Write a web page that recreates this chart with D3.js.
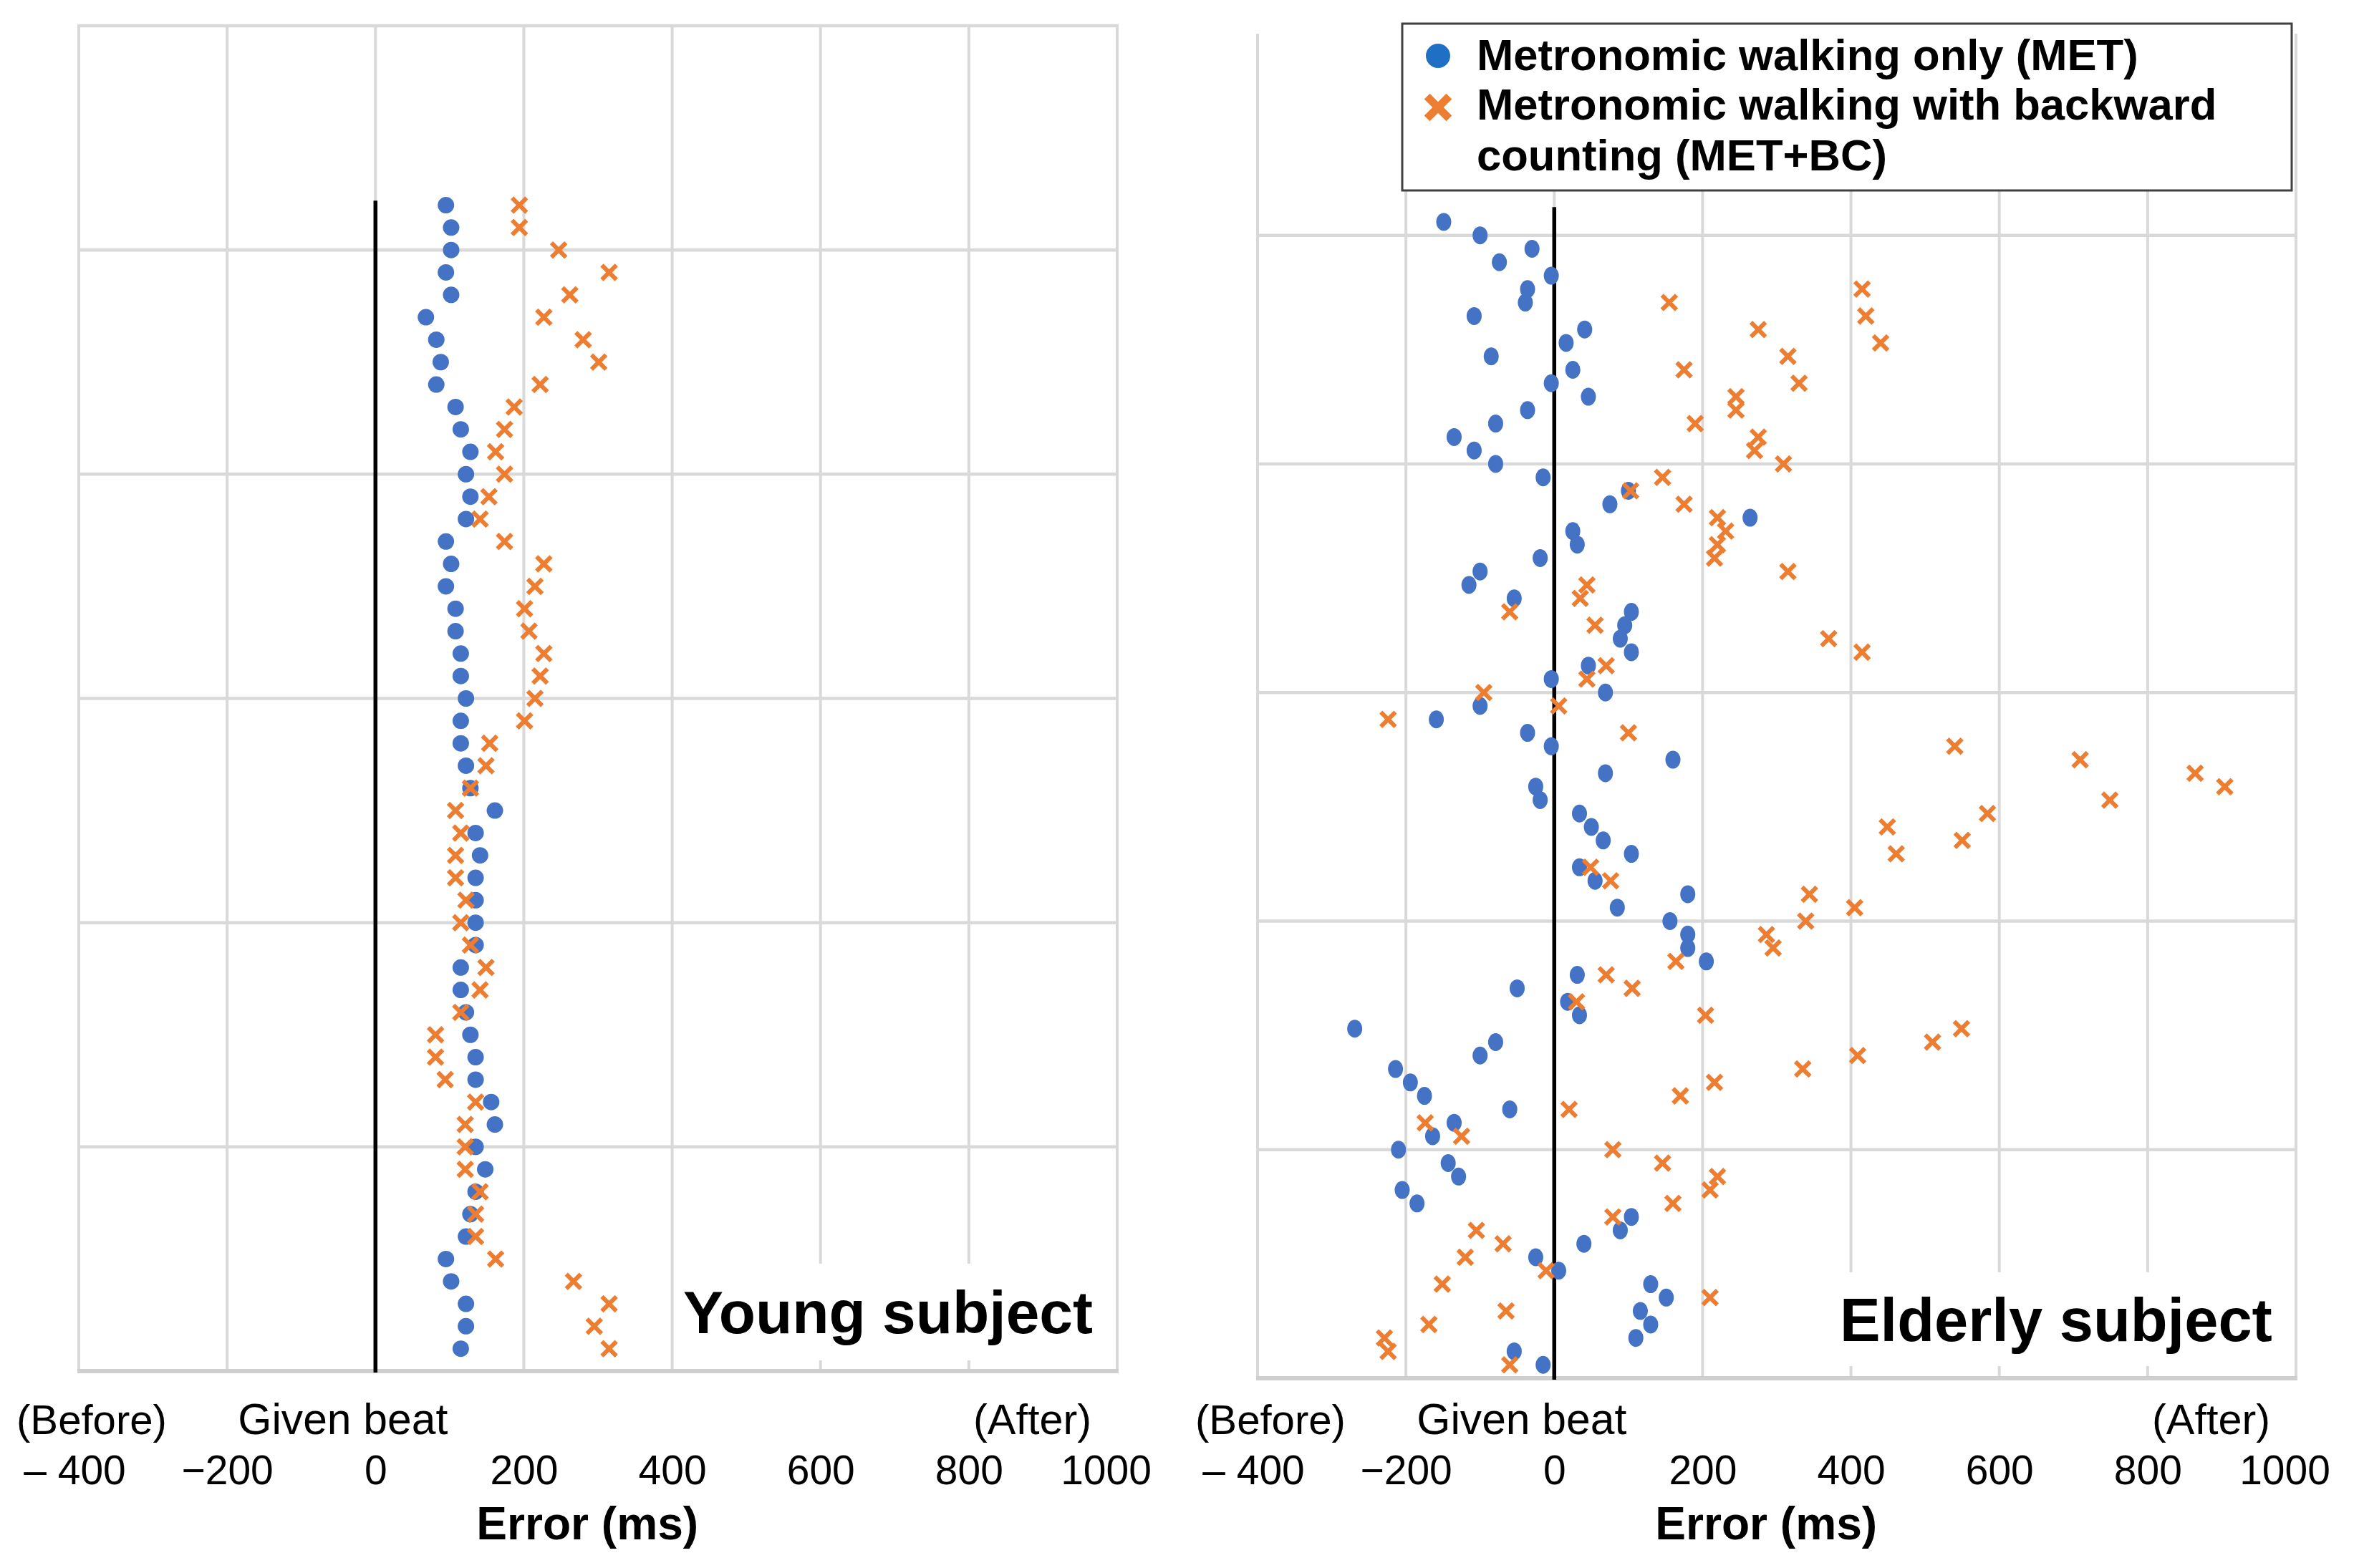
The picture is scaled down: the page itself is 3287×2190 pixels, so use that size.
<!DOCTYPE html>
<html>
<head>
<meta charset="utf-8">
<script src="https://cdn.jsdelivr.net/npm/d3@7"></script>
<style>
body { margin: 0; background: #fff; }
text { font-family: 'Liberation Sans', Arial, sans-serif; fill: #000; }
</style>
</head>
<body>
<script>
// x axis (error in ms)
var xTicks = [-400, -200, 0, 200, 400, 600, 800, 1000]
var xTickLabels = ['\u2013 400', '\u2212200', '0', '200', '400', '600', '800', '1000']
var axisNotes = ['(Before)', 'Given beat', '(After)']
var axisTitle = 'Error (ms)'
var panelTitles = ['Young subject', 'Elderly subject']
var legendLines = ['Metronomic walking only (MET)', 'Metronomic walking with backward', 'counting (MET+BC)']

// horizontal gridlines (step count from the last step)
var youngGrid = [0, 10, 20, 30, 40, 50, 60]
var elderGrid = [0, 17, 34, 51, 68, 85]

// errors in ms, first step at the top
var youngMET = [95, 102, 102, 95, 102, 68, 82, 88, 82, 108, 115, 128, 122, 128, 122, 95, 102,
	95, 108, 108, 115, 115, 122, 115, 115, 122, 128, 161, 135, 141, 135, 135, 135,
	135, 115, 115, 122, 128, 135, 135, 156, 161, 135, 148, 135, 128, 122, 95, 102, 122, 122, 115]
var youngBC = [194, 194, 247, 315, 262, 227, 280, 301, 222, 187, 174, 162, 174, 153, 141, 174, 227,
	215, 201, 207, 227, 222, 215, 201, 154, 149, 128, 108, 115, 108, 108, 122, 115,
	128, 149, 141, 115, 81, 81, 94, 135, 121, 121, 121, 141, 135, 135, 162, 267, 315, 295, 315]

var elderMET = [-149, -100, -30, -74, -4, -36, -39, -108, 41, 16, -85, 25, -4, 46, -36, -79, -135,
	-108, -79, -15, 100, 75, 264, 25, 31, -19, -100, -115, -54, 104, 95, 89, 104, 46, -4,
	69, -100, -159, -36, -4, 160, 69, -25, -19, 34, 50, 66, 104, 34, 55, 180, 85, 156,
	180, 180, 205, 31, -50, 18, 34, -269, -79, -100, -214, -194, -175, -60, -135, -164,
	-210, -143, -129, -205, -185, 104, 89, 40, -25, 6, 130, 151, 116, 130, 110, -54, -15]
var elderBC = [null, null, null, null, null, 415, 155, 420, 275, 440, 315, 175, 330, 245, 245, 190, 275,
	270, 309, 146, 103, 175, 220, 231, 220, 216, 315, 44, 35, -60, 55, 370, 415, 70, 44,
	-95, 6, -224, 100, 540, 709, 864, 904, 749, 584, 449, 550, 461, 49, 76, 344, 405, 339,
	286, 295, 164, 70, 105, 30, 204, 549, 510, 409, 335, 216, 170, 20, -174, -125,
	79, 146, 220, 210, 160, 79, -105, -69, -120, -11, -151, 210, -65, -169, -229, -224, -60]

var blue = '#4472C4'
var orange = '#ED7D31'
var gridColor = '#D9D9D9'

var svg = d3.select('body').append('svg')
	.attr('width', 3287)
	.attr('height', 2190)

drawPanel({
	xRange: [110, 1560], yDomain: [0, 60], yRange: [1915, 36],
	grid: youngGrid, met: youngMET, bc: youngBC, zeroTop: 52.2,
	rx: 11.5, ry: 11.5,
	title: panelTitles[0], titleX: 954, titleY: 1862, titleW: 572,
	box: [945, 1765, 607, 135]
})
drawPanel({
	xRange: [1756, 3206], yDomain: [0, 100], yRange: [1925, 47],
	grid: elderGrid, met: elderMET, bc: elderBC, zeroTop: 87.1,
	rx: 10.5, ry: 12.5,
	title: panelTitles[1], titleX: 2569, titleY: 1873, titleW: 604,
	box: [2560, 1777, 638, 131]
})
drawLegend()

// scale a text's font size so it spans the given width
function fit(sel, w) {
	sel.each(function() {
		var t = d3.select(this)
		var s = +t.attr('font-size')
		t.attr('font-size', s * w / this.getComputedTextLength())
	})
	return sel
}

function drawPanel(p) {
	var x = d3.scaleLinear().domain([-400, 1000]).range(p.xRange)
	var y = d3.scaleLinear().domain(p.yDomain).range(p.yRange)
	var g = svg.append('g')
	var top = y(p.yDomain[1]), bottom = y(0)

	g.selectAll('.vgrid').data(xTicks)
	.enter().append('line')
	.attr('x1', function(d) { return x(d) })
	.attr('x2', function(d) { return x(d) })
	.attr('y1', top)
	.attr('y2', bottom)
	.attr('stroke', gridColor)
	.attr('stroke-width', 4)

	g.selectAll('.hgrid').data(p.grid)
	.enter().append('line')
	.attr('x1', x(-400) - 2)
	.attr('x2', x(1000) + 2)
	.attr('y1', function(d) { return y(d) })
	.attr('y2', function(d) { return y(d) })
	.attr('stroke', function(d) { return d == 0 ? '#CFCFCF' : gridColor })
	.attr('stroke-width', function(d) { return d == 0 ? 6 : 4.5 })

	// white box behind the panel title
	g.append('rect')
	.attr('x', p.box[0]).attr('y', p.box[1])
	.attr('width', p.box[2]).attr('height', p.box[3])
	.attr('fill', '#fff')

	g.append('line')
	.attr('x1', x(0)).attr('x2', x(0))
	.attr('y1', y(p.zeroTop)).attr('y2', bottom + 2)
	.attr('stroke', '#000')
	.attr('stroke-width', 5.5)

	var n = p.met.length
	g.selectAll('.met').data(p.met)
	.enter().append('ellipse')
	.attr('cx', function(d) { return x(d) })
	.attr('cy', function(d, i) { return y(n - i) })
	.attr('rx', p.rx)
	.attr('ry', p.ry)
	.attr('fill', blue)

	var bcPts = p.bc.map(function(d, i) { return { v: d, step: n - i } })
		.filter(function(d) { return d.v != null })
	g.selectAll('.bc').data(bcPts)
	.enter().append('path')
	.attr('d', d3.symbol(d3.symbolX, 270))
	.attr('transform', function(d) { return 'translate(' + x(d.v) + ',' + y(d.step) + ')' })
	.attr('fill', 'none')
	.attr('stroke', orange)
	.attr('stroke-width', 6)

	fit(g.append('text')
	.attr('x', p.titleX).attr('y', p.titleY)
	.attr('font-size', 84)
	.attr('font-weight', 'bold')
	.text(p.title), p.titleW)

	// tick labels
	var axis = d3.axisBottom(x).tickValues(xTicks).tickSize(0)
		.tickFormat(function(d, i) { return xTickLabels[i] })
	var ax = g.append('g').attr('transform', 'translate(0,2073)').call(axis)
	ax.select('.domain').remove()
	ax.selectAll('text')
	.attr('y', 0).attr('dy', 0)
	.attr('dx', function(d) { return d == 1000 ? -16 : (d == -400 ? -6 : 0) })
	.attr('font-size', 60)
	.attr('font-family', "'Liberation Sans', Arial, sans-serif")
	.attr('fill', '#000')
	// size all tick labels like the "200" one
	var ref = ax.selectAll('text').filter(function(d) { return d == 200 }).node()
	var tickSize = 60 * 95 / ref.getComputedTextLength()
	ax.selectAll('text').attr('font-size', tickSize)

	var left = p.xRange[0]
	fit(g.append('text').attr('x', left - 87).attr('y', 2003).attr('font-size', 56)
	.text(axisNotes[0]), 210)
	fit(g.append('text').attr('x', x(0) - 192).attr('y', 2003).attr('font-size', 56)
	.text(axisNotes[1]), 293)
	fit(g.append('text').attr('x', p.xRange[1] - 36).attr('y', 2003).attr('font-size', 56)
	.attr('text-anchor', 'end').text(axisNotes[2]), 165)

	fit(g.append('text').attr('x', x(0) + 141).attr('y', 2150)
	.attr('font-size', 60).attr('font-weight', 'bold')
	.text(axisTitle), 310)
}

function drawLegend() {
	var g = svg.append('g')
	g.append('rect')
	.attr('x', 1958).attr('y', 33)
	.attr('width', 1242).attr('height', 233)
	.attr('fill', '#fff')
	.attr('stroke', '#404040')
	.attr('stroke-width', 3)

	g.append('circle').attr('cx', 2008).attr('cy', 78).attr('r', 17).attr('fill', '#1F6FC5')
	g.append('path')
	.attr('d', d3.symbol(d3.symbolX, 620))
	.attr('transform', 'translate(2008,150)')
	.attr('stroke', orange).attr('stroke-width', 11).attr('fill', 'none')

	var lt = g.selectAll('.lt').data(legendLines)
	.enter().append('text')
	.attr('x', 2062)
	.attr('y', function(d, i) { return [98, 167, 238][i] })
	.attr('font-size', 57)
	.attr('font-weight', 'bold')
	.text(function(d) { return d })
	var size = 57 * 924 / lt.node().getComputedTextLength()
	lt.attr('font-size', size)
}
</script>
</body>
</html>
